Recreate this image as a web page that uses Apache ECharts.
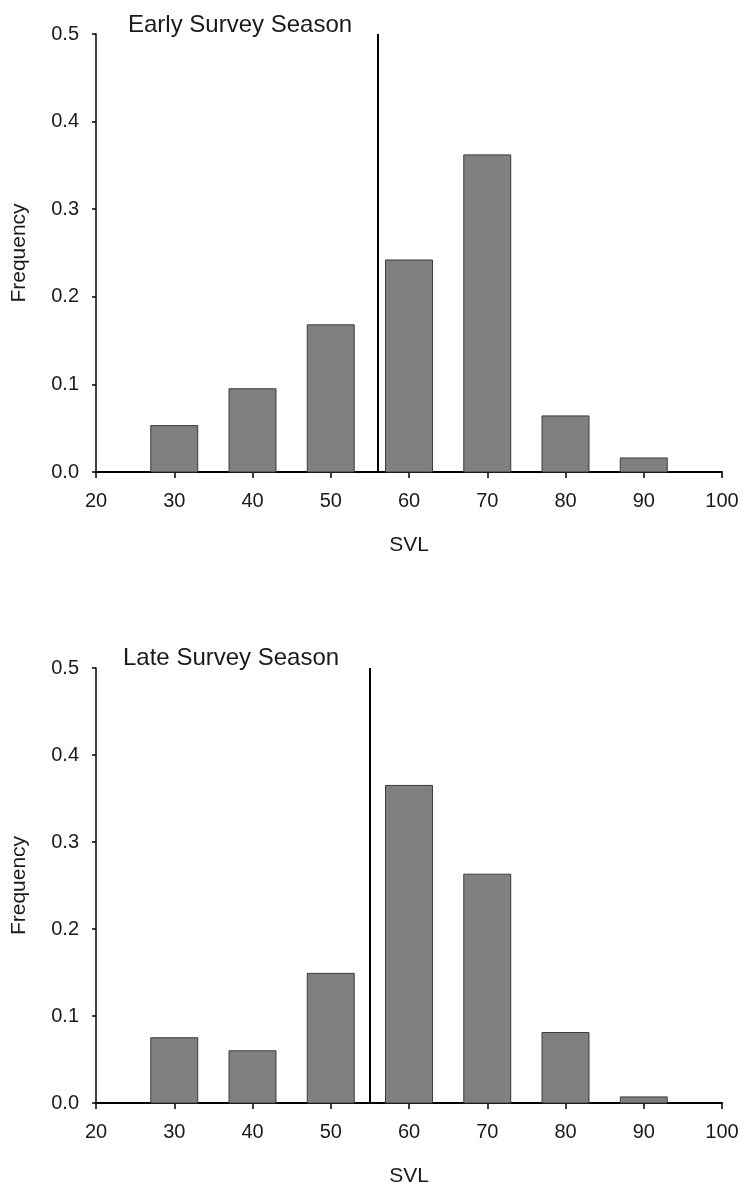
<!DOCTYPE html>
<html>
<head>
<meta charset="utf-8">
<script src="https://cdn.jsdelivr.net/npm/echarts@6/dist/echarts.min.js"></script>
<style>
  html, body { margin: 0; padding: 0; background: #fff; }
  #chart { width: 742px; height: 1188px; }
</style>
</head>
<body>
<div id="chart"></div>
<script>
// SVL size classes (bar centres)
var svlClasses = [30, 40, 50, 60, 70, 80, 90];
// frequency per class, early and late survey season
var earlyFreq = [0.053, 0.095, 0.168, 0.242, 0.362, 0.064, 0.016];
var lateFreq = [0.075, 0.060, 0.149, 0.365, 0.263, 0.081, 0.007];
// vertical reference lines (SVL)
var earlyCut = 56;
var lateCut = 55;
var panelTitles = ['Early Survey Season', 'Late Survey Season'];

var FONT = '"Liberation Sans", Arial, sans-serif';
var chart = echarts.init(document.getElementById('chart'));

function pairs(vals) {
    return svlClasses.map(function (x, i) { return [x, vals[i]]; });
}

// bars span 3 units either side of the class centre
function barItem(params, api) {
    var x = api.value(0), y = api.value(1);
    var p1 = api.coord([x - 3, y]);
    var p2 = api.coord([x + 3, 0]);
    return {
        type: 'rect',
        shape: { x: p1[0], y: p1[1], width: p2[0] - p1[0], height: p2[1] - p1[1] },
        style: { fill: '#808080', stroke: '#3a3a3a', lineWidth: 1 }
    };
}

function xAxisFor(idx) {
    return {
        gridIndex: idx,
        type: 'value',
        min: 20, max: 100, interval: 10,
        name: 'SVL',
        nameLocation: 'middle',
        nameGap: 63,
        nameTextStyle: { fontFamily: FONT, fontSize: 21, color: '#1a1a1a' },
        axisLine: { onZero: false, lineStyle: { color: '#000', width: 2 } },
        axisTick: { length: 6, lineStyle: { color: '#000', width: 1.5 } },
        axisLabel: { fontFamily: FONT, fontSize: 20, color: '#1a1a1a', margin: 19 },
        splitLine: { show: false }
    };
}

function yAxisFor(idx) {
    return {
        gridIndex: idx,
        type: 'value',
        min: 0, max: 0.5, interval: 0.1,
        name: 'Frequency',
        nameLocation: 'middle',
        nameGap: 66,
        nameTextStyle: { fontFamily: FONT, fontSize: 21, color: '#1a1a1a' },
        axisLine: { show: true, lineStyle: { color: '#000', width: 1.5 } },
        axisTick: { show: true, length: 4, lineStyle: { color: '#000', width: 1.5 } },
        axisLabel: {
            fontFamily: FONT, fontSize: 20, color: '#1a1a1a', margin: 17,
            formatter: function (v) { return v.toFixed(1); }
        },
        splitLine: { show: false }
    };
}

function cutLine(val) {
    return {
        silent: true,
        symbol: ['none', 'none'],
        label: { show: false },
        lineStyle: { color: '#000', width: 2, type: 'solid' },
        data: [{ xAxis: val }]
    };
}

var option = {
    animation: false,
    backgroundColor: '#fff',
    title: [
        { text: panelTitles[0], left: 123, top: 8,
          textStyle: { fontFamily: FONT, fontSize: 24, fontWeight: 'normal', color: '#1a1a1a' } },
        { text: panelTitles[1], left: 118, top: 641,
          textStyle: { fontFamily: FONT, fontSize: 24, fontWeight: 'normal', color: '#1a1a1a' } }
    ],
    grid: [
        { left: 96, right: 20, top: 34, height: 438 },
        { left: 96, right: 20, top: 668, height: 437 }
    ],
    xAxis: [xAxisFor(0), xAxisFor(1)],
    yAxis: [yAxisFor(0), yAxisFor(1)],
    series: [
        {
            type: 'custom', xAxisIndex: 0, yAxisIndex: 0,
            renderItem: barItem, data: pairs(earlyFreq),
            markLine: cutLine(earlyCut)
        },
        {
            type: 'custom', xAxisIndex: 1, yAxisIndex: 1,
            renderItem: barItem, data: pairs(lateFreq),
            markLine: cutLine(lateCut)
        }
    ]
};

chart.setOption(option);
</script>
</body>
</html>
